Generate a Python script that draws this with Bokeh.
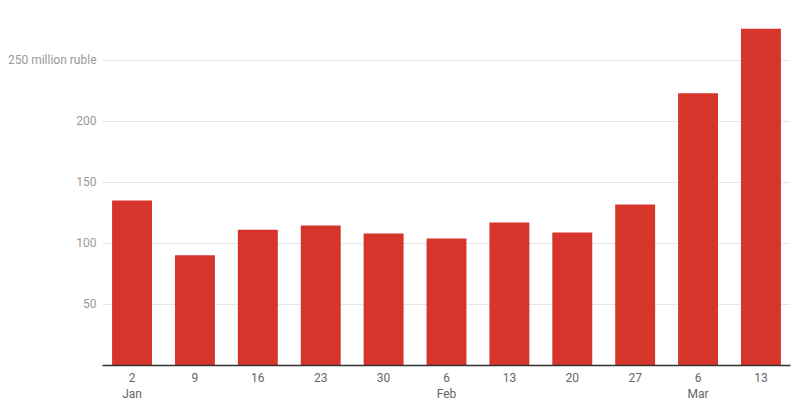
from bokeh.plotting import figure
from bokeh.models import ColumnDataSource, FixedTicker, Range1d
from bokeh.embed import file_html
from bokeh.resources import INLINE

day_labels = ["2", "9", "16", "23", "30", "6", "13", "20", "27", "6", "13"]
month_labels = ["Jan", "", "", "", "", "Feb", "", "", "", "Mar", ""]
values = [135.1, 90.3, 111.1, 114.6, 108.1, 104.0, 117.1, 108.9, 131.8, 223.0, 275.7]
y_ticks = [50, 100, 150, 200, 250]
y_unit = "million ruble"

xs = list(range(len(values)))
src = ColumnDataSource(dict(x=xs, top=values))

p = figure(width=800, height=409, output_backend="svg", toolbar_location=None,
           x_range=Range1d(-0.47, len(values) - 0.53), y_range=Range1d(0, 282.5),
           min_border_left=102, min_border_right=10, min_border_top=20, min_border_bottom=44)
p.outline_line_color = None
p.background_fill_color = "white"
p.border_fill_color = "white"

p.vbar(x="x", top="top", width=0.635, source=src, fill_color="#d5352b", line_color=None)

# x axis: day over month
p.xaxis.ticker = FixedTicker(ticks=xs)
p.xaxis.major_label_overrides = {
    i: (d + "\n" + m if m else d) for i, (d, m) in enumerate(zip(day_labels, month_labels))
}
p.xaxis.axis_line_color = "#333333"
p.xaxis.axis_line_width = 1.5
p.xaxis.major_tick_line_color = None
p.xaxis.major_tick_out = 0
p.xaxis.major_tick_in = 0
p.xaxis.minor_tick_line_color = None
p.xaxis.major_label_text_font = "Roboto"
p.xaxis.major_label_text_font_size = "12px"
p.xaxis.major_label_text_color = "#666666"
p.xaxis.major_label_standoff = 5
p.xgrid.grid_line_color = None

# y axis
p.yaxis.ticker = FixedTicker(ticks=y_ticks)
p.yaxis.major_label_overrides = {y_ticks[-1]: f"{y_ticks[-1]} {y_unit}"}
p.yaxis.axis_line_color = None
p.yaxis.major_tick_line_color = None
p.yaxis.major_tick_out = 0
p.yaxis.major_tick_in = 0
p.yaxis.minor_tick_line_color = None
p.yaxis.major_label_text_font = "Roboto"
p.yaxis.major_label_text_font_size = "12px"
p.yaxis.major_label_text_color = "#999999"
p.yaxis.major_label_standoff = 6
p.ygrid.grid_line_color = "#e6e6e6"
p.ygrid.grid_line_width = 1

open("out.html", "w").write(file_html(p, INLINE))
